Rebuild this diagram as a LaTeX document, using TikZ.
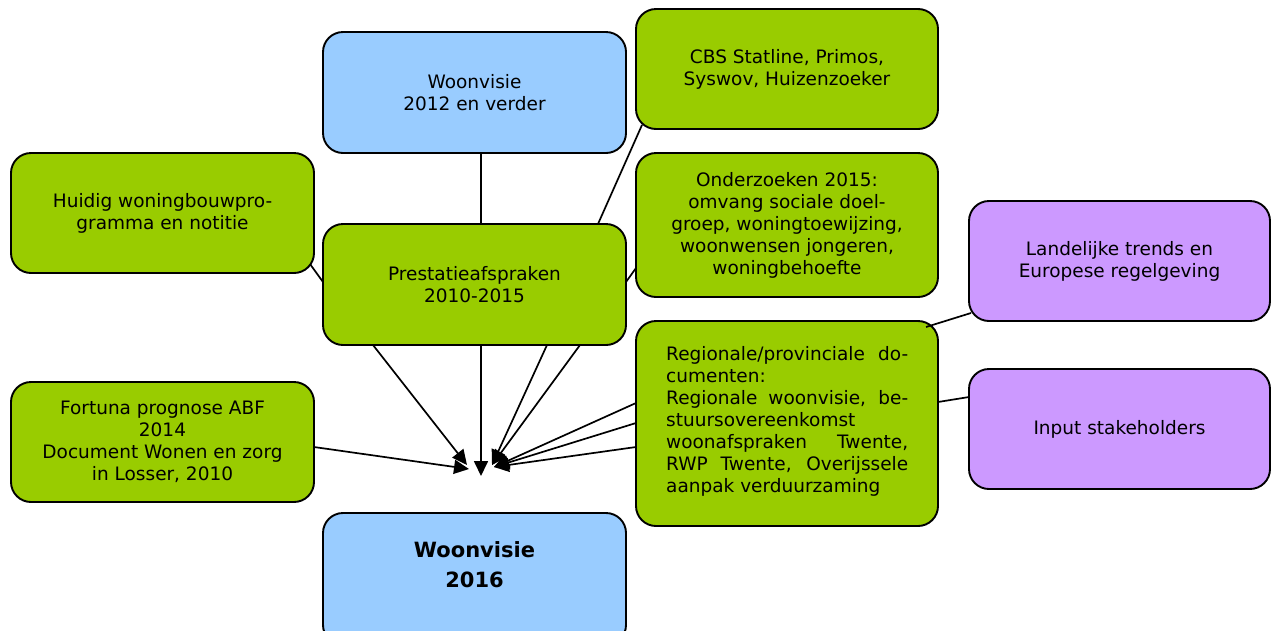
\documentclass[tikz,border=0pt]{standalone}
\usepackage{fontspec}
\setmainfont{DejaVu Sans}
\usetikzlibrary{arrows.meta}
\definecolor{cblue}{HTML}{99CCFF}
\definecolor{cgreen}{HTML}{99CC00}
\definecolor{cpurple}{HTML}{CC99FF}
\tikzset{
  box/.style={draw=black, line width=1.9pt, rounded corners=20pt, inner sep=0pt, outer sep=0pt, align=center,
    font=\fontsize{18.5}{22}\selectfont},
  gbox/.style={box, fill=cgreen},
  bbox/.style={box, fill=cblue},
  pbox/.style={box, fill=cpurple},
  txt/.style={inner sep=0pt, font=\fontsize{18.5}{22}\selectfont},
  conn/.style={line width=1.7pt},
  arr/.style={conn, -{Triangle[length=15pt,width=14pt]}},
}
\begin{document}
\begin{tikzpicture}[x=1pt,y=-1pt]
\useasboundingbox (0,0) rectangle (1274,630);
\clip (0,0) rectangle (1274,630);
% boxes
\node[bbox, minimum width=303pt, minimum height=121pt] (wv12) at (474.5,92.5) {Woonvisie\\2012 en verder};
\node[gbox, minimum width=302pt, minimum height=120pt] (cbs) at (787,69) {CBS Statline, Primos,\\Syswov, Huizenzoeker};
\node[gbox, minimum width=303pt, minimum height=120pt] (huid) at (162.5,213) {Huidig woningbouwpro-\\gramma en notitie};
\node[gbox, minimum width=303pt, minimum height=121pt] (prest) at (474.5,284.5) {Prestatieafspraken\\2010-2015};
\node[gbox, minimum width=302pt, minimum height=144pt] (ond) at (787,225) {};
\node[pbox, minimum width=301pt, minimum height=120pt] (land) at (1119.5,261) {Landelijke trends en\\Europese regelgeving};
\node[gbox, minimum width=302pt, minimum height=205pt] (reg) at (787,423.5) {};
\node[pbox, minimum width=301pt, minimum height=120pt] (inp) at (1119.5,429) {Input stakeholders};
\node[gbox, minimum width=303pt, minimum height=120pt] (fort) at (162.5,442) {Fortuna prognose ABF\\2014\\Document Wonen en zorg\\in Losser, 2010};
\node[bbox, minimum width=303pt, minimum height=132pt] (wv16) at (474.5,579) {};
% texts placed separately
\begin{scope}
\clip (636,153) rectangle (938,279);
\node[txt, align=center] (ondtxt) at (787,225) {Onderzoeken 2015:\\omvang sociale doel-\\groep, woningtoewijzing,\\woonwensen jongeren,\\woningbehoefte};
\end{scope}
\node[txt, align=left, anchor=west] (regtxt) at (666,421) {\makebox[242pt][s]{Regionale/provinciale do-}\\cumenten:\\\makebox[242pt][s]{Regionale woonvisie, be-}\\stuursovereenkomst\\\makebox[242pt][s]{woonafspraken  Twente,}\\\makebox[242pt][s]{RWP Twente, Overijssele}\\aanpak verduurzaming};
\node[inner sep=0pt, align=center, font=\fontsize{21}{30}\selectfont\bfseries] (wv16txt) at (474.5,565) {Woonvisie\\2016};
% plain connectors
\draw[conn] ([xshift=6.5pt]wv12.south) -- ([xshift=6.5pt]prest.north);
\draw[conn] ([xshift=6pt,yshift=4pt]cbs.south west) -- ([xshift=123.5pt]prest.north);
\draw[conn] ([yshift=-43pt]ond.west) -- ([yshift=2.5pt]prest.east);
\draw[conn] ([xshift=-4pt,yshift=9pt]huid.south east) -- ([yshift=2.5pt]prest.west);
\draw[conn] ([xshift=2pt,yshift=8pt]land.south west) -- ([xshift=-12pt,yshift=-6pt]reg.north east);
\draw[conn] ([yshift=32pt]inp.west) -- ([yshift=21.5pt]reg.east);
% arrow targets
\coordinate (tL1) at (467,465);
\coordinate (tL2) at (469,469);
\coordinate (tC) at (481,476);
\coordinate (tR) at (492,465);
\coordinate (tR2) at (494,467);
\draw[arr] ([xshift=-101.5pt]prest.south) -- (tL1);
\draw[arr] ([yshift=-5pt]fort.east) -- (tL2);
\draw[arr] ([xshift=6.5pt]prest.south) -- (tC);
\draw[arr] ([xshift=72.5pt]prest.south) -- (tR);
\draw[arr] ([xshift=105.5pt]prest.south) -- (tR);
\draw[arr] ([yshift=20.5pt]reg.west) -- (tR2);
\draw[arr] ([yshift=0.5pt]reg.west) -- (tR2);
\draw[arr] ([yshift=-23.5pt]reg.west) -- (tR2);
\end{tikzpicture}
\end{document}
